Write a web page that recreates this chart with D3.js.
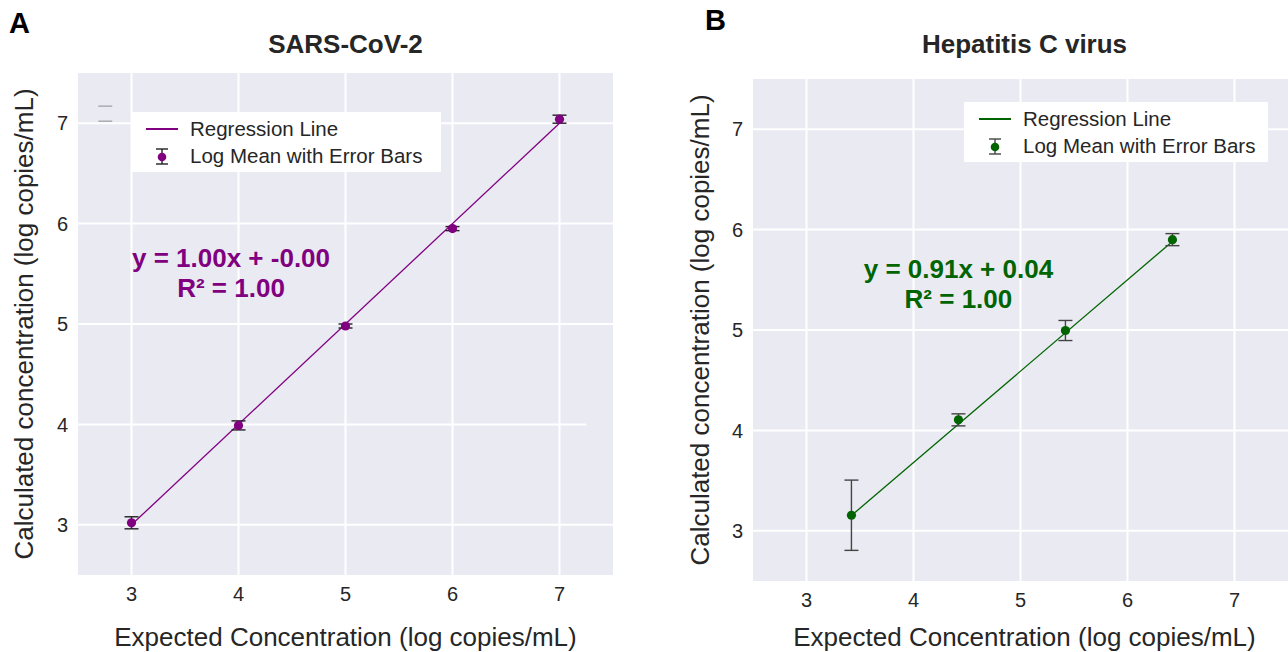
<!DOCTYPE html>
<html>
<head>
<meta charset="utf-8">
<script src="https://cdn.jsdelivr.net/npm/d3@7"></script>
<style>
  body { margin: 0; background: #fff; }
  text { font-family: "Liberation Sans", Arial, sans-serif; }
</style>
</head>
<body>
<svg id="fig" width="1288" height="652"></svg>
<script>
// values
const tickValues = [3, 4, 5, 6, 7];
const axisDomain = [2.5, 7.5];

const sarsExpected = [3, 4, 5, 6, 7];
const sarsMean = [3.02, 3.99, 4.98, 5.95, 7.04];
const sarsErr = [0.06, 0.045, 0.02, 0.02, 0.04];
const sarsFit = [1.00, -0.00];          // slope, intercept
const sarsEquation = ["y = 1.00x + -0.00", "R² = 1.00"];

const hcvExpected = [3.42, 4.42, 5.42, 6.42];
const hcvMean = [3.155, 4.105, 4.995, 5.90];
const hcvErr = [0.35, 0.06, 0.10, 0.06];
const hcvFit = [0.91, 0.04];
const hcvEquation = ["y = 0.91x + 0.04", "R² = 1.00"];

const legendLabels = ["Regression Line", "Log Mean with Error Bars"];
const xLabel = "Expected Concentration (log copies/mL)";
const yLabel = "Calculated concentration (log copies/mL)";

const svg = d3.select("#fig");
const ink = "#262626";

function drawPanel(p) {
  const x = d3.scaleLinear().domain(axisDomain).range([p.left, p.right]);
  const y = d3.scaleLinear().domain(axisDomain).range([p.bottom, p.top]);
  const g = svg.append("g");
  const midX = (p.left + p.right) / 2 + (p.textDx || 0);

  // background
  g.append("rect")
    .attr("x", p.left).attr("y", p.top)
    .attr("width", p.right - p.left).attr("height", p.bottom - p.top)
    .attr("fill", "#eaeaf2");

  // grid
  g.selectAll(".vgrid").data(tickValues).enter().append("line")
    .attr("x1", d => x(d)).attr("x2", d => x(d))
    .attr("y1", p.top).attr("y2", p.bottom)
    .attr("stroke", "#fff").attr("stroke-width", 2);
  g.selectAll(".hgrid").data(tickValues).enter().append("line")
    .attr("x1", p.left)
    .attr("x2", d => (p.gridCut && d === p.gridCut[0]) ? x(p.gridCut[1]) : p.right)
    .attr("y1", d => y(d)).attr("y2", d => y(d))
    .attr("stroke", "#fff").attr("stroke-width", 2);

  // tick labels
  g.selectAll(".xt").data(tickValues).enter().append("text")
    .attr("x", d => x(d)).attr("y", p.bottom + 26)
    .attr("text-anchor", "middle").attr("font-size", 20).attr("fill", ink)
    .text(d => d);
  g.selectAll(".yt").data(tickValues).enter().append("text")
    .attr("x", p.left - 10).attr("y", d => y(d)).attr("dy", "0.36em")
    .attr("text-anchor", "end").attr("font-size", 20).attr("fill", ink)
    .text(d => d);

  // axis labels, title, panel letter
  g.append("text")
    .attr("x", midX).attr("y", 646)
    .attr("text-anchor", "middle").attr("font-size", 26).attr("fill", ink)
    .text(xLabel);
  g.append("text")
    .attr("transform", `translate(${p.yLabelX}, ${(p.top + p.bottom) / 2}) rotate(-90)`)
    .attr("text-anchor", "middle").attr("font-size", 26).attr("fill", ink)
    .text(yLabel);
  g.append("text")
    .attr("x", midX).attr("y", 53)
    .attr("text-anchor", "middle").attr("font-size", 26).attr("font-weight", "bold")
    .attr("fill", ink)
    .text(p.title);
  g.append("text")
    .attr("x", p.letterX).attr("y", p.letterY)
    .attr("font-size", 29).attr("font-weight", "bold").attr("fill", "#000")
    .text(p.letter);

  // regression line
  const xs = d3.extent(p.xs);
  g.append("line")
    .attr("x1", x(xs[0])).attr("y1", y(p.fit[0] * xs[0] + p.fit[1]))
    .attr("x2", x(xs[1])).attr("y2", y(p.fit[0] * xs[1] + p.fit[1]))
    .attr("stroke", p.color).attr("stroke-width", 1.3);

  // error bars + points
  const pts = p.xs.map((v, i) => ({ x: v, y: p.ys[i], e: p.err[i] }));
  const bars = g.selectAll(".eb").data(pts).enter().append("g")
    .attr("stroke", p.errColor).attr("stroke-width", 1.4);
  bars.append("line")
    .attr("x1", d => x(d.x)).attr("x2", d => x(d.x))
    .attr("y1", d => y(d.y - d.e)).attr("y2", d => y(d.y + d.e));
  [-1, 1].forEach(s => {
    bars.append("line")
      .attr("x1", d => x(d.x) - 7).attr("x2", d => x(d.x) + 7)
      .attr("y1", d => y(d.y + s * d.e)).attr("y2", d => y(d.y + s * d.e));
  });
  g.selectAll(".pt").data(pts).enter().append("circle")
    .attr("cx", d => x(d.x)).attr("cy", d => y(d.y)).attr("r", 4.6)
    .attr("fill", p.color);

  // stray marks near the top left (panel A only)
  if (p.strays) {
    p.strays.forEach(v => {
      g.append("line")
        .attr("x1", x(2.69)).attr("x2", x(2.82))
        .attr("y1", y(v)).attr("y2", y(v))
        .attr("stroke", "#a0a0a8").attr("stroke-width", 1.3);
    });
  }

  // equation
  const eq = g.append("text")
    .attr("text-anchor", "middle").attr("font-size", 26).attr("font-weight", "bold")
    .attr("fill", p.color);
  p.equation.forEach((t, i) => {
    eq.append("tspan")
      .attr("x", x(p.eqAt[0])).attr("y", y(p.eqAt[1]) + i * 30)
      .text(t);
  });

  // legend
  const lg = g.append("g").attr("transform", `translate(${p.legend[0]}, ${p.legend[1]})`);
  lg.append("rect").attr("width", p.legend[2]).attr("height", 60).attr("fill", "#fff");
  lg.append("line").attr("x1", 15).attr("x2", 47).attr("y1", 17).attr("y2", 17)
    .attr("stroke", p.color).attr("stroke-width", 2);
  const le = lg.append("g").attr("stroke", p.errColor).attr("stroke-width", 1.4);
  le.append("line").attr("x1", 31).attr("x2", 31).attr("y1", 37).attr("y2", 52);
  le.append("line").attr("x1", 25).attr("x2", 37).attr("y1", 37).attr("y2", 37);
  le.append("line").attr("x1", 25).attr("x2", 37).attr("y1", 52).attr("y2", 52);
  lg.append("circle").attr("cx", 31).attr("cy", 45).attr("r", 4.3).attr("fill", p.color);
  legendLabels.forEach((t, i) => {
    lg.append("text")
      .attr("x", 59).attr("y", 17 + i * 27).attr("dy", "0.36em")
      .attr("font-size", 20.5).attr("fill", ink)
      .text(t);
  });
}

drawPanel({
  left: 78, right: 613, top: 73, bottom: 575,
  xs: sarsExpected, ys: sarsMean, err: sarsErr, fit: sarsFit,
  color: "#800080", errColor: "#222",
  title: "SARS-CoV-2", letter: "A", letterX: 9, letterY: 33,
  yLabelX: 33, equation: sarsEquation, eqAt: [3.93, 5.57],
  legend: [131, 112, 310], gridCut: [4, 7.25], strays: [7.17, 7.02]
});

drawPanel({
  left: 753, right: 1288, top: 79, bottom: 581,
  xs: hcvExpected, ys: hcvMean, err: hcvErr, fit: hcvFit,
  color: "#006400", errColor: "#444",
  title: "Hepatitis C virus", letter: "B", letterX: 705, letterY: 30,
  yLabelX: 709, equation: hcvEquation, eqAt: [4.42, 5.52],
  legend: [964, 102, 304], textDx: 4
});
</script>
</body>
</html>
